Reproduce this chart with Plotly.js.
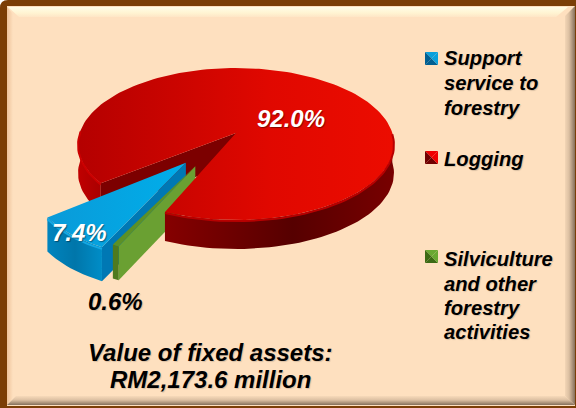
<!DOCTYPE html>
<html><head><meta charset="utf-8"><script src="https://cdn.plot.ly/plotly-3.0.1.min.js"></script>
<style>html,body{margin:0;padding:0;background:#fff}#c{width:576px;height:408px}</style></head>
<body><div id="c"></div><script>
const categories=['Support<br>service to<br>forestry','Logging','Silviculture<br>and other<br>forestry<br>activities'];
const values=[7.4,92.0,0.6];
const footnote='Value of fixed assets:<br>RM2,173.6 million';
const total=values.reduce((a,b)=>a+b,0);

const W=576,H=408;
const cx=236,cy=133,A=156.3,B=74.4,k=0.145,D=29;
const startDeg=38,explode=0.485;
const P=(X,Y,z)=>{const w=1-k*Y;return [cx+A*X/w,cy+B*Y/w+D*z];};
const rad=d=>d*Math.PI/180;
const sweep=values.map(v=>v/total*360);
const aBlue=[startDeg,startDeg+sweep[0]];
const aGreen=[aBlue[1],aBlue[1]+sweep[2]];
const aRed=[aGreen[1],aGreen[1]+sweep[1]];
const offset=(a,shift)=>{const m=rad((a[0]+a[1])/2+shift);return [-Math.cos(m)*explode,Math.sin(m)*explode];};
const pt=(o,r,deg,z)=>P(o[0]-Math.cos(rad(deg))*r[0],o[1]+Math.sin(rad(deg))*r[1],z);
const arc=(o,r,a,b,z)=>{const n=Math.max(2,Math.ceil(Math.abs(b-a)/2));const q=[];for(let i=0;i<=n;i++)q.push(pt(o,r,a+(b-a)*i/n,z));return q;};
const traces=[];
const poly=(q,fill,grad)=>{const t={type:'scatter',mode:'lines',x:q.map(p=>p[0]).concat(q[0][0]),y:q.map(p=>p[1]).concat(q[0][1]),fill:'toself',line:{width:0,color:fill},fillcolor:fill,hoverinfo:'skip',showlegend:false};if(grad)t.fillgradient=grad;traces.push(t);};
const line=(q,c,wd)=>traces.push({type:'scatter',mode:'lines',x:q.map(p=>p[0]),y:q.map(p=>p[1]),line:{color:c,width:wd},hoverinfo:'skip',showlegend:false});
const hgrad=(a,b,cs)=>({type:'horizontal',start:a,stop:b,colorscale:cs});
const vgrad=(a,b,cs)=>({type:'vertical',start:a,stop:b,colorscale:cs});
const wedge=(o,r,a,b,z)=>[P(o[0],o[1],z)].concat(arc(o,r,a,b,z));
const band=(o,r,a,b,z)=>arc(o,r,a,b,0).concat(arc(o,r,a,b,z).reverse());
const cut=(o,r,a,z)=>[P(o[0],o[1],0),pt(o,r,a,0),pt(o,r,a,z),P(o[0],o[1],z)];

// frame
poly([[8,7],[568,7],[556,17],[19,17]],'#fff8dc',vgrad(7,17,[[0,'#fffde6'],[0.6,'#fff4d2'],[1,'#fee6c6']]));
poly([[7,7],[13,14],[13,398],[7,405]],'#f4cfa9',hgrad(7,13,[[0,'#eec39b'],[1,'#fee0bf']]));
poly([[575,6],[565,16],[565,396],[575,405]],'#c0a080',hgrad(563,575,[[0,'#fee0bf'],[0.5,'#dcc0a2'],[1,'#85705c']]));
poly([[7,405],[575,405],[565,396],[16,396]],'#c0a080',vgrad(395,405,[[0,'#fee0bf'],[0.5,'#dcc0a2'],[1,'#85705c']]));

const full=[1,1],rB=[0.93,0.97],rG=[0.94,0.90],zCut=34/29;
const aL=aRed[1]-360;
// logging: part of the rim hidden by the exploded slices, and the open cut
poly(band([0,0],full,aL-40,aL,1),'#a00000',hgrad(78,110,[[0,'#c00000'],[1,'#a00000']]));
poly(cut([0,0],full,aL,1),'#7c0000');
// support service
const oB=offset(aBlue,0),oG=offset(aGreen,-6);
poly(band(oB,rB,aBlue[0],aBlue[1],zCut),'#0080b8',hgrad(40,110,[[0,'#0088c4'],[0.5,'#0076aa'],[1,'#0094d0']]));
poly(cut(oB,rB,aBlue[1],zCut),'#0078b4');
poly(wedge(oB,rB,aBlue[0],aBlue[1],0),'#00a0e0',hgrad(46,186,[[0,'#0a9ad8'],[1,'#00aeea']]));
line(arc(oB,rB,aBlue[0],aBlue[1],0.06),'#14a8e4',2);
// silviculture
poly(cut(oG,rG,aGreen[1],zCut),'#6aa032');
poly(band(oG,rG,aGreen[0],aGreen[1],zCut),'#4f7a1e');
poly(wedge(oG,rG,aGreen[0],aGreen[1],0),'#5c9026');
// logging: top and front rim
poly(band([0,0],full,aGreen[1],180,1),'#600000',hgrad(169,394,[[0,'#840000'],[0.55,'#560000'],[1,'#780000']]));
poly(wedge([0,0],full,aRed[0],aRed[1],0),'#d80000',hgrad(78,394,[[0,'#b40000'],[0.6,'#e00800'],[1,'#ec0c00']]));
line(arc([0,0],full,aGreen[1],180,0.04),'#b80000',2);
line(arc([0,0],full,aL-40,aL,0.04),'#cc0000',2);

// legend swatches
const swatchY=[58.5,157.5,256.5];
const swatchC=[['#0aa0dc','#005f92'],['#f00000','#700000'],['#6aa832','#3c6a14']];
const swatchX=431.5;
swatchY.forEach((y,i)=>{
  const c=swatchC[i],s=6.5;
  poly([[swatchX-s,y-s],[swatchX+s,y-s],[swatchX,y]],c[0]);
  poly([[swatchX-s,y+s],[swatchX+s,y+s],[swatchX,y]],c[1]);
  poly([[swatchX-s,y-s],[swatchX-s,y+s],[swatchX,y]],c[1]);
  poly([[swatchX+s,y-s],[swatchX+s,y+s],[swatchX,y]],c[0]);
});

const bi=s=>'<b><i>'+s+'</i></b>';
const fam='Liberation Sans, Arial, sans-serif';
const tf={family:fam,size:20.2,color:'#000',shadow:'1px 1px 1px rgba(0,0,0,0.15)'};
const bf={family:fam,size:24,color:'#000',shadow:'1px 1px 1px rgba(0,0,0,0.15)'};
const wf={family:fam,size:24,color:'#fff',shadow:'1px 1px 1px rgba(0,0,0,0.4)'};
const ann=(x,y,text,font,xa)=>({x,y,text:bi(text),font,xref:'x',yref:'y',xanchor:xa||'center',yanchor:'middle',align:xa||'center',showarrow:false});
const pct=v=>v.toFixed(1)+'%';
const linesAt=(s,x,ys,font,xa)=>s.split('<br>').map((t,i)=>ann(x,ys[i],t,font,xa));
const annotations=[
 ...linesAt(categories[0],441.5,[57.5,82.5,107.5],tf,'left'),
 ...linesAt(categories[1],441.5,[158.5],tf,'left'),
 ...linesAt(categories[2],441.5,[258.5,283.5,307.5,331.5],tf,'left'),
 ann(291,118,pct(values[1]),wf),
 ann(79,232,pct(values[0]),wf),
 ann(115,301,pct(values[2]),bf),
 ...linesAt(footnote,210,[352,379],bf)
];
const shapes=[
 {type:'path',path:'M0,8 Q0,0 8,0 L576,0 L576,408 L0,408 Z',fillcolor:'#7b3e06',line:{width:0},layer:'below'},
 {type:'rect',x0:7,y0:6,x1:575,y1:406,fillcolor:'#fee0bf',line:{width:0},layer:'below'}
];
Plotly.newPlot('c',traces,{
 width:W,height:H,margin:{l:0,r:0,t:0,b:0},paper_bgcolor:'#fff',plot_bgcolor:'rgba(0,0,0,0)',showlegend:false,
 xaxis:{range:[0,W],visible:false,fixedrange:true},yaxis:{range:[H,0],visible:false,fixedrange:true},
 annotations,shapes
},{displayModeBar:false,staticPlot:true});
</script></body></html>
